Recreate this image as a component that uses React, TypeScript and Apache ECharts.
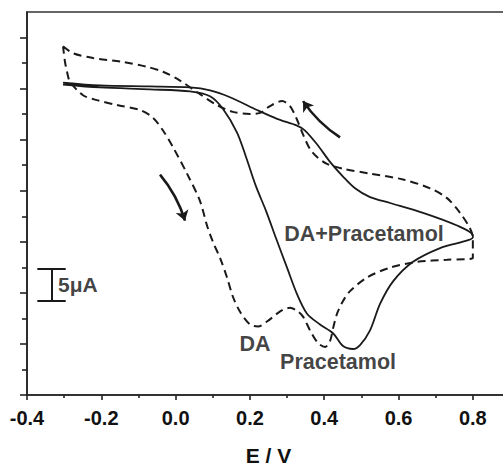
import React, { useEffect, useRef } from "react";
import * as echarts from "echarts";

// Solid curve: DA + Pracetamol (forward branch then reverse branch), E in V, I in µA
const solidX = [
  -0.303, -0.2035, -0.069, 0.039, 0.0926, 0.1464, 0.2191, 0.273, 0.3268, 0.3483, 0.3806, 0.4156, 0.4506, 0.4829,
  0.5233, 0.5771, 0.666, 0.7575, 0.8,
  0.8, 0.7117, 0.639, 0.5852, 0.5502, 0.5233, 0.4964, 0.4775, 0.4506, 0.4237, 0.3887, 0.3537, 0.3268, 0.2999,
  0.2703, 0.2433, 0.2164, 0.1895, 0.1653, 0.1276, 0.0926, 0.039, -0.069, -0.2035, -0.303,
];
const solidY = [
  48.95, 48.49, 48.34, 48.18, 47.72, 46.65, 44.65, 43.27, 42.2, 41.43, 39.28, 36.52, 34.22, 32.38,
  31.0, 30.08, 28.54, 26.55, 25.01,
  24.7, 23.02, 20.87, 17.8, 14.27, 10.13, 7.83, 7.21, 7.67, 9.67, 11.05, 12.74, 15.8, 19.95,
  24.55, 28.85, 32.68, 37.29, 41.12, 44.81, 46.8, 47.57, 47.88, 48.18, 48.64,
];

// Dashed curve: DA
const dashedX = [
  -0.303, -0.2762, -0.2223, -0.1416, -0.077, -0.0339, 0.0118, 0.0657, 0.1114, 0.1545, 0.2003, 0.2272, 0.2541,
  0.2864, 0.3079, 0.3268, 0.3429, 0.3618, 0.3806, 0.4075, 0.4506, 0.5233, 0.6121, 0.6848, 0.7306, 0.7656,
  0.7925, 0.8, 0.8,
  0.7306, 0.6498, 0.5771, 0.5152, 0.4694, 0.4506, 0.4345, 0.4237, 0.4156, 0.4022, 0.3833, 0.3618, 0.3429,
  0.3268, 0.3079, 0.2891, 0.273, 0.246, 0.2218, 0.2003, 0.1734, 0.1545, 0.1384, 0.1195, 0.1007, 0.0845,
  0.0657, 0.0307, -0.007, -0.0339, -0.0608, -0.0958, -0.1577, -0.2116, -0.2493, -0.2843, -0.2923, -0.2977,
  -0.303,
];
const dashedY = [
  54.63, 53.55, 52.79, 52.17, 51.41, 50.64, 49.26, 47.11, 45.42, 44.35, 44.04, 44.19, 45.27,
  46.04, 45.27, 43.12, 40.82, 38.52, 37.29, 36.21, 35.45, 34.68, 33.76, 32.38, 30.84, 28.54,
  26.09, 24.55, 21.48,
  21.18, 20.87, 19.95, 18.41, 16.27, 14.73, 12.74, 10.43, 8.44, 7.52, 8.13, 10.13, 12.28,
  13.2, 13.66, 13.35, 12.74, 11.51, 10.74, 11.05, 13.04, 15.35, 18.41, 21.48, 23.94, 26.55,
  30.38, 34.68, 38.82, 41.43, 43.43, 44.65, 45.42, 46.19, 46.96, 49.1, 50.64, 52.17,
  54.63,
];

// Scan-direction arrows: [tailX, tailY, headX, headY]
const arrow1 = [-0.042, 34.52, 0.0253, 27.31];
const arrow2 = [0.4425, 40.36, 0.3429, 46.04];

// Scale bar (5 µA)
const scaleBarX = -0.3335;
const scaleBarCapX = [-0.3723, -0.2958];
const scaleBarY = [14.8, 19.8];

// Annotations
const annoText = ["DA+Pracetamol", "DA", "Pracetamol"];
const annoX = [0.5071, 0.2137, 0.4372];
const annoY = [25.17, 8.01, 5.19];
const scaleLabel = "5\u03bcA";
const scaleLabelPos = [-0.3166, 17.34];

// Axes
const xMin = -0.4;
const xMax = 0.9;
const xMajorTicks = [-0.4, -0.2, 0.0, 0.2, 0.4, 0.6, 0.8];
const xMinorTicks = [-0.3, -0.1, 0.1, 0.3, 0.5, 0.7, 0.9];
const yMin = 0;
const yMax = 60;
const yMajorTicks = [0, 8, 16, 24, 32, 40, 48, 56];
const yMinorTicks = [4, 12, 20, 28, 36, 44, 52];

const FONT = 'Arial, "Liberation Sans", sans-serif';
const INK = "#1a1a1a";

const zip = (xs: number[], ys: number[]) => xs.map((x, i) => [x, ys[i]]);

export default function App() {
  const ref = useRef<HTMLDivElement>(null);
  useEffect(() => {
    if (!ref.current) return;
    const chart = echarts.init(ref.current, null, { renderer: "svg" });
    const axisLine = { show: true, onZero: false, lineStyle: { color: "#222", width: 1.6 } };
    const textStyle = { color: "#111", fontFamily: FONT, fontWeight: "bold", textBorderWidth: 0 };
    chart.setOption({
      animation: false,
      backgroundColor: "#ffffff",
      grid: {
        left: 27,
        top: 12,
        width: 483,
        height: 391,
        show: true,
        borderColor: "#333",
        borderWidth: 1.6,
        backgroundColor: "transparent",
      },
      xAxis: [
        {
          type: "value",
          min: xMin,
          max: xMax,
          interval: 0.2,
          position: "bottom",
          axisLine,
          axisTick: { show: true, inside: false, length: 5, customValues: xMajorTicks, lineStyle: { color: "#222", width: 1.6 } },
          axisLabel: {
            show: true,
            customValues: xMajorTicks,
            margin: 13,
            ...textStyle,
            fontSize: 20,
            formatter: (v: number) => v.toFixed(1),
          },
          splitLine: { show: false },
          name: "E / V",
          nameLocation: "middle",
          nameGap: 50,
          nameTextStyle: { ...textStyle, fontSize: 21 },
        },
        {
          type: "value",
          min: xMin,
          max: xMax,
          interval: 0.1,
          position: "bottom",
          axisLine: { show: false, onZero: false },
          axisTick: { show: true, inside: false, length: 3, customValues: xMinorTicks, lineStyle: { color: "#222", width: 1.6 } },
          axisLabel: { show: false },
          splitLine: { show: false },
        },
      ],
      yAxis: [
        {
          type: "value",
          min: yMin,
          max: yMax,
          interval: 4,
          position: "left",
          axisLine,
          axisTick: { show: true, inside: false, length: 7, customValues: yMajorTicks, lineStyle: { color: "#222", width: 1.6 } },
          axisLabel: { show: false },
          splitLine: { show: false },
        },
        {
          type: "value",
          min: yMin,
          max: yMax,
          interval: 4,
          position: "left",
          offset: 0,
          axisLine: { show: false, onZero: false },
          axisTick: { show: true, inside: false, length: 5, customValues: yMinorTicks, lineStyle: { color: "#222", width: 1.6 } },
          axisLabel: { show: false },
          splitLine: { show: false },
        },
      ],
      series: [
        {
          type: "line",
          name: "DA+Pracetamol",
          xAxisIndex: 0,
          yAxisIndex: 0,
          data: zip(solidX, solidY),
          showSymbol: false,
          symbol: "none",
          smooth: 0.3,
          lineStyle: { color: INK, width: 1.8 },
          silent: true,
        },
        {
          type: "line",
          name: "DA",
          xAxisIndex: 0,
          yAxisIndex: 0,
          data: zip(dashedX, dashedY),
          showSymbol: false,
          symbol: "none",
          smooth: 0.3,
          lineStyle: { color: INK, width: 2, type: [8, 5] },
          silent: true,
        },
        {
          type: "lines",
          coordinateSystem: "cartesian2d",
          xAxisIndex: 0,
          yAxisIndex: 0,
          symbol: ["none", "arrow"],
          symbolSize: [7, 10],
          lineStyle: { color: INK, width: 2.6, opacity: 1, curveness: 0.1 },
          data: [
            { coords: [[arrow1[0], arrow1[1]], [arrow1[2], arrow1[3]]] },
            { coords: [[arrow2[0], arrow2[1]], [arrow2[2], arrow2[3]]] },
          ],
          silent: true,
        },
        {
          type: "lines",
          coordinateSystem: "cartesian2d",
          xAxisIndex: 0,
          yAxisIndex: 0,
          symbol: ["none", "none"],
          lineStyle: { color: INK, width: 2, opacity: 1, curveness: 0 },
          data: [
            { coords: [[scaleBarX, scaleBarY[0]], [scaleBarX, scaleBarY[1]]] },
            { coords: [[scaleBarCapX[0], scaleBarY[0]], [scaleBarCapX[1], scaleBarY[0]]] },
            { coords: [[scaleBarCapX[0], scaleBarY[1]], [scaleBarCapX[1], scaleBarY[1]]] },
          ],
          silent: true,
        },
        {
          type: "scatter",
          xAxisIndex: 0,
          yAxisIndex: 0,
          symbolSize: 0,
          silent: true,
          data: annoText.map((t, i) => ({
            value: [annoX[i], annoY[i]],
            label: {
              show: true,
              position: "inside",
              formatter: t,
              ...textStyle,
              fontSize: 21.5,
            },
          })),
        },
        {
          type: "scatter",
          xAxisIndex: 0,
          yAxisIndex: 0,
          symbolSize: 0,
          silent: true,
          data: [
            {
              value: scaleLabelPos,
              label: {
                show: true,
                position: "right",
                distance: 0,
                formatter: scaleLabel,
                ...textStyle,
                fontSize: 21,
              },
            },
          ],
        },
      ],
    });
    return () => chart.dispose();
  }, []);
  return (
    <div style={{ position: "fixed", left: 0, top: 0, width: 503, height: 471, overflow: "hidden", background: "#fff" }}>
      <div ref={ref} style={{ width: 540, height: 471 }} />
    </div>
  );
}
